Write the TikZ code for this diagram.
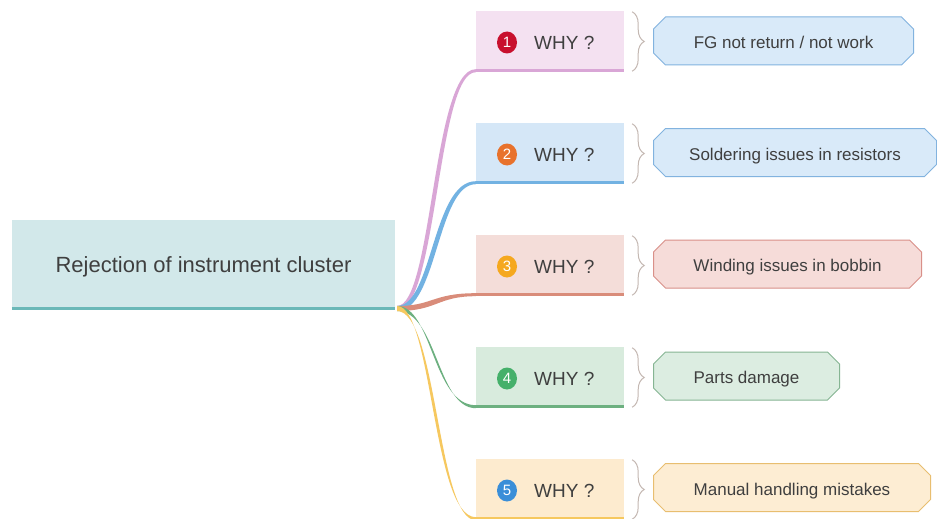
\documentclass[tikz,border=0pt]{standalone}
\usepackage{fontspec}
\setmainfont{Liberation Sans}
\usetikzlibrary{shapes.misc,shapes.geometric,decorations.pathreplacing,calc}

\definecolor{txt}{HTML}{3F3F3F}
\definecolor{rootfill}{HTML}{D2E8EA}
\definecolor{rootline}{HTML}{6BB8B8}
\definecolor{pinkfill}{HTML}{F4E1F1}
\definecolor{pinkline}{HTML}{D9A6D6}
\definecolor{bluefill}{HTML}{D5E7F7}
\definecolor{blueline}{HTML}{72B2E2}
\definecolor{salmfill}{HTML}{F4DDD9}
\definecolor{salmline}{HTML}{D98C7A}
\definecolor{grnfill}{HTML}{D8EBDD}
\definecolor{grnline}{HTML}{6DB080}
\definecolor{yelfill}{HTML}{FDEBCF}
\definecolor{yelline}{HTML}{F6C85F}
\definecolor{ansblue}{HTML}{D9EAF9}
\definecolor{ansblueb}{HTML}{82B3DF}
\definecolor{anssalm}{HTML}{F6DCD9}
\definecolor{anssalmb}{HTML}{D99089}
\definecolor{ansgrn}{HTML}{DCEDE1}
\definecolor{ansgrnb}{HTML}{86B593}
\definecolor{ansyel}{HTML}{FDEDD3}
\definecolor{ansyelb}{HTML}{E8BE70}
\definecolor{bracecol}{HTML}{C4B8B2}
\definecolor{num1}{HTML}{C8102E}
\definecolor{num2}{HTML}{E8722C}
\definecolor{num3}{HTML}{F5A81F}
\definecolor{num4}{HTML}{45B06A}
\definecolor{num5}{HTML}{3A8ED8}

\tikzset{
  rootbox/.style={rectangle, fill=rootfill, minimum width=383pt, minimum height=90pt,
    inner sep=0pt, text=txt, text depth=0pt, font=\fontsize{22}{26}\selectfont},
  whybox/.style={rectangle, minimum width=148pt, minimum height=61pt, inner sep=0pt},
  whytext/.style={anchor=west, inner sep=0pt, text=txt, font=\fontsize{19}{22}\selectfont},
  numdot/.style={ellipse, minimum width=20pt, minimum height=22pt, inner sep=0pt,
    text=white, font=\fontsize{15}{17}\selectfont},
  answer/.style={chamfered rectangle, chamfered rectangle xsep=6pt, chamfered rectangle ysep=6pt,
    minimum height=48pt, inner sep=0pt, anchor=west, line width=1pt,
    text=txt, text height=15.5pt, text depth=0pt, font=\fontsize{17}{20}\selectfont},
  bracemark/.style={draw=bracecol, line width=1pt,
    decorate, decoration={brace, amplitude=12pt}},
  underbar/.style={line width=3pt},
}

\begin{document}
\begin{tikzpicture}[x=1pt,y=-1pt]
\useasboundingbox (0,0) rectangle (937,519);
\fill[white] (0,0) rectangle (937,519);

% central topic
\node[rootbox] (root) at (203.5,265) {Rejection of instrument cluster};
\coordinate (hub) at (397,308.5);

% question boxes
\foreach \i/\cy/\fc in {1/41.5/pinkfill,2/153.5/bluefill,3/265.5/salmfill,4/377.5/grnfill,5/489.5/yelfill}{
  \node[whybox, fill=\fc] (w\i) at (550,\cy) {};
  \coordinate (e\i) at ([yshift=1.5pt]w\i.south west);
}

% tapered branches from the hub to each question box
\foreach \i/\col in {1/pinkline,2/blueline,3/salmline,4/grnline,5/yelline}{
  \fill[\col] ($(hub)+(0,2.5pt)$)
      .. controls ($(hub)!0.45!(hub -| e\i)+(0,2.5pt)$) and ($(e\i)!0.55!(e\i -| hub)+(0,1.5pt)$)
      .. ($(e\i)+(0,1.5pt)$)
      -- ($(e\i)+(0,-1.5pt)$)
      .. controls ($(e\i)!0.49!(e\i -| hub)+(0,-1.5pt)$) and ($(hub)!0.51!(hub -| e\i)+(0,-2.5pt)$)
      .. ($(hub)+(0,-2.5pt)$) -- cycle;
}

% central topic underline
\draw[rootline, underbar] ([yshift=1.5pt]root.south west) -- ([yshift=1.5pt]root.south east);

% question box underlines, numbers, labels and braces
\foreach \i/\col/\nc in {1/pinkline/num1,2/blueline/num2,3/salmline/num3,4/grnline/num4,5/yelline/num5}{
  \draw[\col, underbar] ([yshift=1.5pt]w\i.south west) -- ([yshift=1.5pt]w\i.south east);
  \node[numdot, fill=\nc] (n\i) at ([xshift=-43pt,yshift=-1pt]w\i.center) {\i};
  \node[whytext] (q\i) at ([xshift=-16pt,yshift=-1.5pt]w\i.center) {WHY ?};
  \draw[bracemark] ([xshift=8pt,yshift=-1pt]w\i.north east) -- ([xshift=8pt,yshift=1pt]w\i.south east);
}

% answers
\node[answer, fill=ansblue, draw=ansblueb, minimum width=260pt] (a1) at (653,41) {FG not return / not work};
\node[answer, fill=ansblue, draw=ansblueb, minimum width=283pt] (a2) at (653,152.5) {Soldering issues in resistors};
\node[answer, fill=anssalm, draw=anssalmb, minimum width=268pt] (a3) at (653,264) {Winding issues in bobbin};
\node[answer, fill=ansgrn, draw=ansgrnb, minimum width=186pt] (a4) at (653,376) {Parts damage};
\node[answer, fill=ansyel, draw=ansyelb, minimum width=277pt] (a5) at (653,487.5) {Manual handling mistakes};
\end{tikzpicture}
\end{document}
